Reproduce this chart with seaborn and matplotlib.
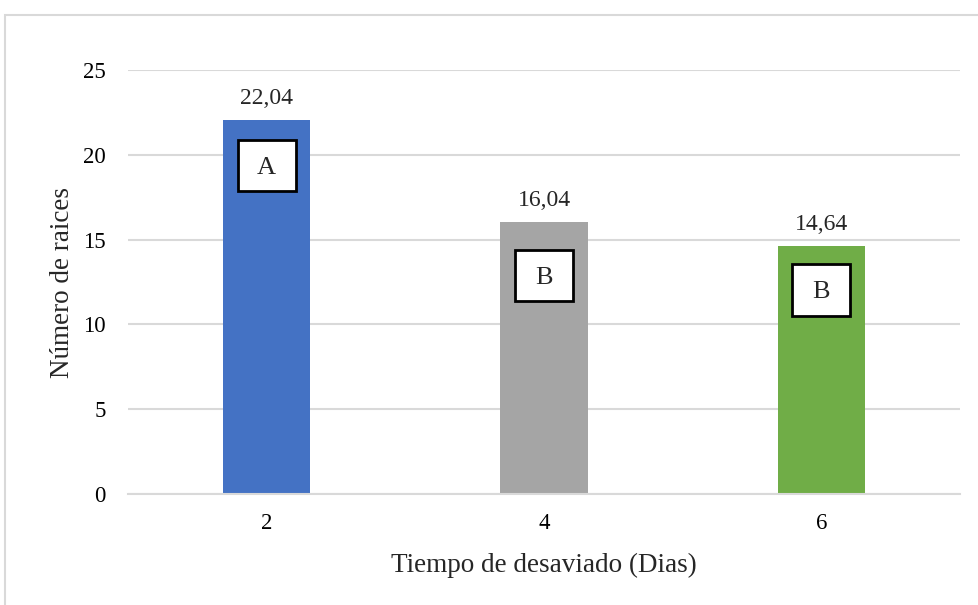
import matplotlib
matplotlib.use("Agg")
import matplotlib.pyplot as plt
import matplotlib.patches as mpatches
import seaborn as sns
import pandas as pd

categories = ["2", "4", "6"]
values = [22.04, 16.04, 14.64]
value_labels = ["22,04", "16,04", "14,64"]
letters = ["A", "B", "B"]
letter_y = [19.37, 12.88, 12.03]
colors = ["#4472C4", "#A5A5A5", "#70AD47"]
yticks = [0, 5, 10, 15, 20, 25]

sns.set_theme(style="white")
plt.rcParams["font.family"] = ["Liberation Serif", "DejaVu Serif"]

df = pd.DataFrame({"dias": categories, "raices": values})

fig = plt.figure(figsize=(9.79, 6.05), dpi=100)
ax = fig.add_axes([128/979, 1-494/605, (960-128)/979, (494-70)/605])

sns.barplot(data=df, x="dias", y="raices", hue="dias", palette=colors,
            width=0.315, legend=False, ax=ax, saturation=1, edgecolor="none")

ax.set_ylim(0, 25)
ax.set_xlim(-0.5, 2.5)
ax.set_yticks(yticks)
ax.set_yticklabels([str(t) for t in yticks])
ax.yaxis.grid(True, color="#D9D9D9", linewidth=1.5)
ax.set_axisbelow(True)
for s in ["top", "right", "left"]:
    ax.spines[s].set_visible(False)
ax.spines["bottom"].set_color("#D9D9D9")
ax.spines["bottom"].set_linewidth(1.5)
ax.tick_params(axis="both", length=0, labelsize=16.5, colors="#000000")
ax.tick_params(axis="y", pad=16)
ax.tick_params(axis="x", pad=14)

ax.set_xlabel("Tiempo de desaviado (Dias)", fontsize=19.5, labelpad=13)
ax.set_ylabel("Número de raices", fontsize=19.5, labelpad=6)

for i, (v, lab) in enumerate(zip(values, value_labels)):
    ax.annotate(lab, (i, v), xytext=(0, 15.5), textcoords="offset points",
                ha="center", va="center", fontsize=17)

box_w, box_h = 0.21, 3.05
for i, (l, ly) in enumerate(zip(letters, letter_y)):
    ax.add_patch(mpatches.Rectangle((i - box_w/2, ly - box_h/2), box_w, box_h,
                                    facecolor="white", edgecolor="black",
                                    linewidth=2, zorder=5))
    ax.text(i, ly, l, ha="center", va="center_baseline", fontsize=19, zorder=6)

border = mpatches.Rectangle((5/979, -0.1), 2, 1 - 15/605 + 0.1,
                            transform=fig.transFigure, fill=False,
                            edgecolor="#D9D9D9", linewidth=1.5)
fig.patches.append(border)

fig.savefig("out.png", dpi=100, facecolor="white")
